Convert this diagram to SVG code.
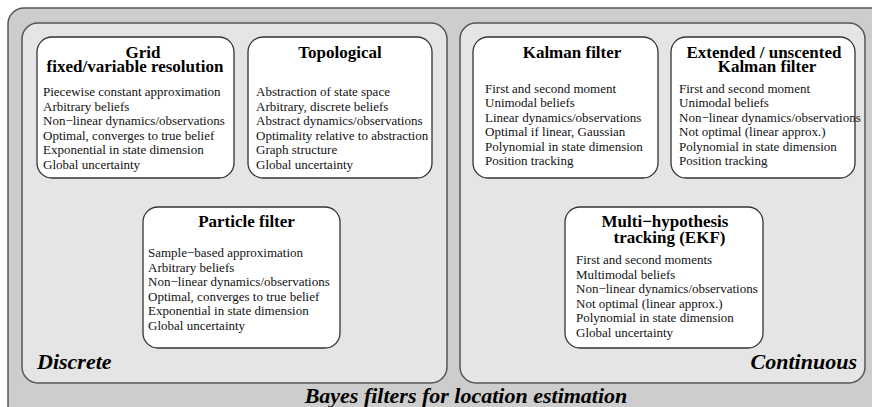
<svg xmlns="http://www.w3.org/2000/svg" width="872" height="407" viewBox="0 0 872 407">
<style>
.outer{fill:#cdcdcd;stroke:#555;stroke-width:1.5}
.panel{fill:#e5e5e5;stroke:#555;stroke-width:1.5}
.box{fill:#fff;stroke:#333;stroke-width:1.3}
.t{font-family:"Liberation Serif",serif;font-weight:bold;font-size:17px;fill:#000;text-anchor:middle}
.b{font-family:"Liberation Serif",serif;font-size:13px;fill:#111}
.lab{font-family:"Liberation Serif",serif;font-weight:bold;font-style:italic;font-size:22px;fill:#000}
</style>
<rect width="872" height="407" fill="#fff"/>
<g id="outer">
<rect class="outer" x="8" y="8" width="890" height="430" rx="16"/>
<text class="lab" x="466" y="403" text-anchor="middle">Bayes filters for location estimation</text>
</g>
<g id="discrete">
<rect class="panel" x="22" y="23" width="425" height="360" rx="16"/>
<text class="lab" x="37" y="369">Discrete</text>
</g>
<g id="continuous">
<rect class="panel" x="460" y="23" width="405" height="360" rx="16"/>
<text class="lab" x="857" y="369" text-anchor="end">Continuous</text>
</g>
<g id="grid">
<rect class="box" x="37" y="37" width="197" height="141" rx="15"/>
<text class="t" x="143" y="58">Grid</text>
<text class="t" x="135" y="72">fixed/variable resolution</text>
<text class="b" x="43" y="96">Piecewise constant approximation</text>
<text class="b" x="43" y="110.5">Arbitrary beliefs</text>
<text class="b" x="43" y="125">Non−linear dynamics/observations</text>
<text class="b" x="43" y="139.5">Optimal, converges to true belief</text>
<text class="b" x="43" y="154">Exponential in state dimension</text>
<text class="b" x="43" y="168.5">Global uncertainty</text>
</g>
<g id="topological">
<rect class="box" x="248" y="37" width="184" height="141" rx="15"/>
<text class="t" x="340" y="58">Topological</text>
<text class="b" x="256" y="96">Abstraction of state space</text>
<text class="b" x="256" y="110.5">Arbitrary, discrete beliefs</text>
<text class="b" x="256" y="125">Abstract dynamics/observations</text>
<text class="b" x="256" y="139.5">Optimality relative to abstraction</text>
<text class="b" x="256" y="154">Graph structure</text>
<text class="b" x="256" y="168.5">Global uncertainty</text>
</g>
<g id="kalman">
<rect class="box" x="473" y="37" width="185" height="141" rx="15"/>
<text class="t" x="572" y="58">Kalman filter</text>
<text class="b" x="485" y="92.5">First and second moment</text>
<text class="b" x="485" y="107">Unimodal beliefs</text>
<text class="b" x="485" y="121.5">Linear dynamics/observations</text>
<text class="b" x="485" y="136">Optimal if linear, Gaussian</text>
<text class="b" x="485" y="150.5">Polynomial in state dimension</text>
<text class="b" x="485" y="165">Position tracking</text>
</g>
<g id="ekf">
<rect class="box" x="671" y="37" width="184" height="141" rx="15"/>
<text class="t" x="764" y="58">Extended / unscented</text>
<text class="t" x="767" y="72">Kalman filter</text>
<text class="b" x="679" y="92.5">First and second moment</text>
<text class="b" x="679" y="107">Unimodal beliefs</text>
<text class="b" x="679" y="121.5">Non−linear dynamics/observations</text>
<text class="b" x="679" y="136">Not optimal (linear approx.)</text>
<text class="b" x="679" y="150.5">Polynomial in state dimension</text>
<text class="b" x="679" y="165">Position tracking</text>
</g>
<g id="particle">
<rect class="box" x="143" y="207" width="197" height="141" rx="15"/>
<text class="t" x="246.5" y="227">Particle filter</text>
<text class="b" x="148" y="257">Sample−based approximation</text>
<text class="b" x="148" y="271.5">Arbitrary beliefs</text>
<text class="b" x="148" y="286">Non−linear dynamics/observations</text>
<text class="b" x="148" y="300.5">Optimal, converges to true belief</text>
<text class="b" x="148" y="315">Exponential in state dimension</text>
<text class="b" x="148" y="329.5">Global uncertainty</text>
</g>
<g id="mht">
<rect class="box" x="565" y="207" width="198" height="141" rx="15"/>
<text class="t" x="665" y="227">Multi−hypothesis</text>
<text class="t" x="669.5" y="243">tracking (EKF)</text>
<text class="b" x="576" y="264">First and second moments</text>
<text class="b" x="576" y="278.5">Multimodal beliefs</text>
<text class="b" x="576" y="293">Non−linear dynamics/observations</text>
<text class="b" x="576" y="307.5">Not optimal (linear approx.)</text>
<text class="b" x="576" y="322">Polynomial in state dimension</text>
<text class="b" x="576" y="336.5">Global uncertainty</text>
</g>
<g id="connectors"></g>
</svg>
